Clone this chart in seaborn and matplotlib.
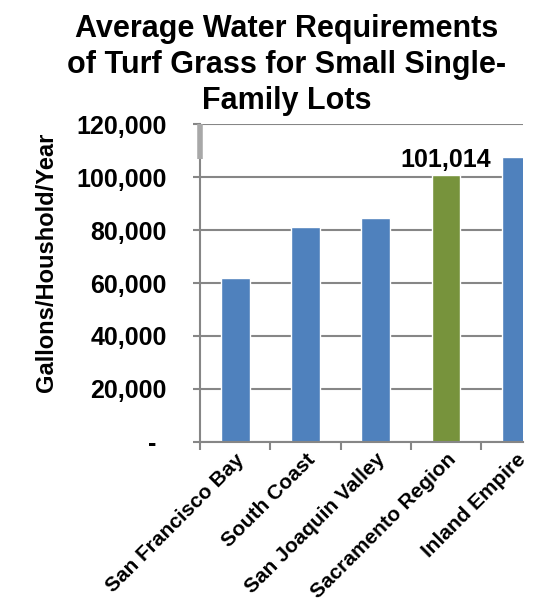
import matplotlib
matplotlib.use("Agg")
import matplotlib.pyplot as plt
import matplotlib.transforms as mtransforms
import seaborn as sns

regions = ["San Francisco Bay", "South Coast", "San Joaquin Valley",
           "Sacramento Region", "Inland Empire"]
gallons = [62000, 81200, 84600, 101014, 107600]
bar_colors = ["#4F81BD", "#4F81BD", "#4F81BD", "#77933C", "#4F81BD"]
y_ticks = [0, 20000, 40000, 60000, 80000, 100000, 120000]
y_tick_labels = ["-", "20,000", "40,000", "60,000", "80,000", "100,000", "120,000"]
title = "Average Water Requirements\nof Turf Grass for Small Single-\nFamily Lots"
y_label = "Gallons/Houshold/Year"
highlight = 3  # Sacramento Region carries a value label

sns.set_theme(style="white")
plt.rcParams["font.family"] = ["Liberation Sans", "DejaVu Sans"]
plt.rcParams["font.weight"] = "bold"

grid_grey = "#868686"

fig = plt.figure(figsize=(5.36, 6.03), dpi=100)
ax = fig.add_axes([0.3731, 0.2675, 0.6026, 0.5274])

sns.barplot(x=regions, y=gallons, hue=regions, palette=bar_colors,
            legend=False, width=0.41, saturation=1, ax=ax)

ax.set_xlim(-0.5, 4.094)
ax.set_ylim(0, 120300)
ax.set_axisbelow(True)

# horizontal gridlines and axis styling
ax.yaxis.grid(True, color=grid_grey, linewidth=1.5)
ax.xaxis.grid(False)
for side in ("top", "right"):
    ax.spines[side].set_visible(False)
for side in ("left", "bottom"):
    ax.spines[side].set_color(grid_grey)
    ax.spines[side].set_linewidth(1.5)

# heavier stub at the top of the value axis
ax.plot([-0.5, -0.5], [107000, 120000], color="#a8a8a8", linewidth=4,
        solid_capstyle="butt", clip_on=False, zorder=3)

ax.set_yticks(y_ticks)
ax.set_yticklabels(y_tick_labels, fontsize=18, fontweight="bold", color="black")
ax.tick_params(axis="y", direction="out", length=5, width=1.5,
               color=grid_grey, pad=19, left=True)

# category tick marks sit between bars; labels sit under bar centres
ax.set_xticks(range(len(regions)))
ax.set_xticklabels(regions, rotation=45, ha="right", rotation_mode="anchor",
                   fontsize=15, fontweight="bold", color="black")
ax.set_xticks([i - 0.5 for i in range(len(regions))], minor=True)
ax.tick_params(axis="x", which="major", length=0, pad=6)
ax.tick_params(axis="x", which="minor", direction="out", length=5.5,
               width=1.5, color=grid_grey, bottom=True)

ax.set_xlabel("")
ax.set_ylabel(y_label, fontsize=17, fontweight="bold", color="black")
ax.yaxis.set_label_coords(-0.44, 0.565)

# shift the zero label left like an accounting-style dash
zero_lbl = ax.yaxis.get_major_ticks()[0].label1
zero_lbl.set_transform(zero_lbl.get_transform() +
                       mtransforms.ScaledTranslation(-0.10, 0, fig.dpi_scale_trans))

ax.bar_label(ax.containers[highlight], labels=[f"{gallons[highlight]:,}"],
             padding=2, fontsize=18, fontweight="bold", color="black")

fig.text(0.535, 1 - 14 / 603, title, ha="center", va="top", fontsize=22,
         fontweight="bold", color="black", linespacing=1.27)

fig.savefig("out.png", dpi=100, facecolor="white")
